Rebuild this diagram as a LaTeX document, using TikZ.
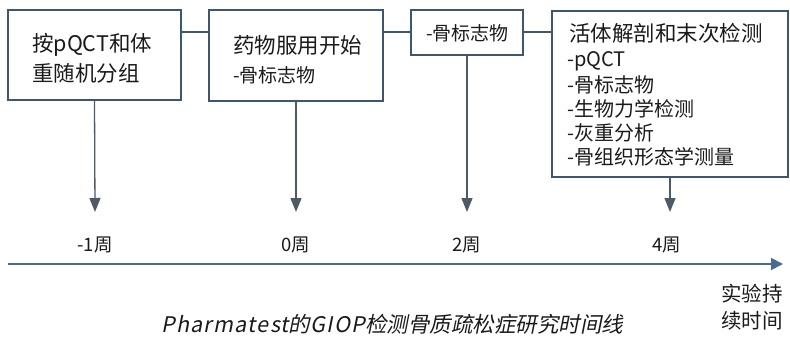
\documentclass[tikz,border=0pt]{standalone}
\usepackage{fontspec}
\setmainfont{Noto Sans CJK SC}
\newfontfamily\capfont[FakeSlant=0.2]{Noto Sans CJK SC}
\newfontfamily\caplat[FakeSlant=0.2,LetterSpace=6]{Noto Sans CJK SC}
\usetikzlibrary{arrows.meta}
\definecolor{boxc}{HTML}{3E5670}
\definecolor{arrc}{HTML}{4E5A66}
\definecolor{tlc}{HTML}{4A6B8C}
\definecolor{txt}{HTML}{1A1A1A}
\begin{document}
\begin{tikzpicture}[x=1pt,y=-1pt,
  boxnode/.style={draw=boxc,line width=1.4pt,inner sep=0pt},
  big/.style={font=\fontsize{21.5}{24}\selectfont,text=txt,inner sep=0pt,anchor=west},
  small/.style={font=\fontsize{19}{22}\selectfont,text=txt,inner sep=0pt,anchor=west},
  item/.style={font=\fontsize{20}{23}\selectfont,text=txt,inner sep=0pt,anchor=west},
  wk/.style={font=\fontsize{18.5}{21}\selectfont,text=txt,inner sep=0pt},
  link/.style={draw=boxc,line width=1.4pt},
  down/.style={draw=arrc,line width=1.3pt,-{Triangle[length=14pt,width=11pt]}},
]
\useasboundingbox (0,0) rectangle (790,345);
% boxes
\node[boxnode,minimum width=173pt,minimum height=90pt] (b1) at (94.5,55) {};
\node[boxnode,minimum width=174pt,minimum height=91pt] (b2) at (296,55.5) {};
\node[boxnode,minimum width=112pt,minimum height=45pt] (b3) at (467,32.5) {};
\node[boxnode,minimum width=236pt,minimum height=166pt] (b4) at (670,94) {};
% texts
\node[big] (t1a) at (32,45) {按pQCT和体};
\node[big] (t1b) at (32,73) {重随机分组};
\node[big] (t2a) at (233,45) {药物服用开始};
\node[small] (t2b) at (233,75) {-骨标志物};
\node[small] (t3a) at (426,33) {-骨标志物};
\node[big] (t4a) at (569,33) {活体解剖和末次检测};
\node[item] (t4b) at (567,61) {-pQCT};
\node[item] (t4c) at (567,85) {-骨标志物};
\node[item] (t4d) at (567,109) {-生物力学检测};
\node[item] (t4e) at (567,133) {-灰重分析};
\node[item] (t4f) at (567,157) {-骨组织形态学测量};
% horizontal links
\draw[link] (b1.east |- 0,32) -- (b2.west |- 0,32);
\draw[link] (b2.east |- 0,32) -- (b3.west |- 0,32);
\draw[link] (b3.east |- 0,32) -- (b4.west |- 0,32);
% arrow ends
\coordinate (e1) at (95,212);
\coordinate (e2) at (296,212);
\coordinate (e3) at (467,212);
\coordinate (e4) at (670,212);
\draw[down] (b1.south) -- (e1);
\draw[down] (b2.south) -- (e2);
\draw[down] (b3.south) -- (e3);
\draw[down] (b4.south) -- (e4);
% week labels
\node[wk] (w1) at (95,245) {-1周};
\node[wk] (w2) at (296,245) {0周};
\node[wk] (w3) at (467,245) {2周};
\node[wk] (w4) at (667,245) {4周};
% timeline
\coordinate (ts) at (8,264);
\coordinate (te) at (783,264);
\draw[draw=tlc,line width=1.8pt,-{Triangle[length=12pt,width=12pt]}] (ts) -- (te);
\node[wk,align=center,font=\fontsize{20.5}{27}\selectfont] (dur) at (752,307) {实验持\\续时间};
\node[wk,font=\fontsize{21.5}{24}\capfont,anchor=west] (cap) at (161,324) {{\caplat Pharmatest}的{\caplat GIOP}检测骨质疏松症研究时间线};
\end{tikzpicture}
\end{document}
